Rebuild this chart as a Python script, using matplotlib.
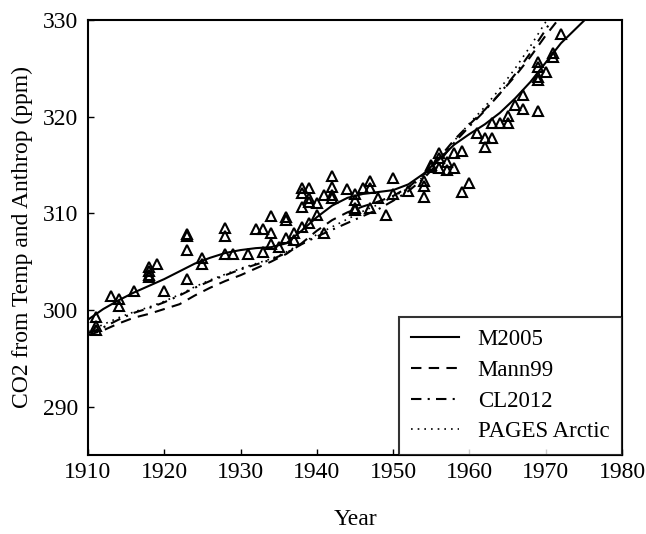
import matplotlib
matplotlib.use("Agg")
import matplotlib.pyplot as plt

plt.rcParams["font.family"] = ["Liberation Serif", "DejaVu Serif"]

# ========= data =========
m2005_years = [1910, 1912, 1914, 1916, 1918, 1920, 1922, 1924, 1926, 1928, 1930,
               1932, 1934, 1936, 1938, 1940, 1942, 1944, 1946, 1948, 1950, 1952,
               1954, 1956, 1958, 1960, 1962, 1964, 1966, 1968, 1970, 1972, 1975.5]
m2005_ppm = [299.0, 300.1, 301.0, 301.8, 302.5, 303.2, 304.0, 304.8, 305.4, 305.9, 306.2,
             306.4, 306.5, 306.9, 308.2, 309.6, 310.8, 311.6, 312.0, 312.2, 312.4, 313.0,
             314.1, 315.6, 317.1, 318.2, 319.2, 320.4, 321.9, 323.6, 325.6, 327.6, 330.3]

mann_years = [1910, 1912, 1914, 1916, 1918, 1920, 1922, 1924, 1926, 1928, 1930,
              1932, 1934, 1936, 1938, 1940, 1942, 1944, 1946, 1948, 1950, 1952,
              1954, 1956, 1958, 1960, 1962, 1964, 1966, 1968, 1970, 1972]
mann_ppm = [297.4, 297.9, 298.6, 299.2, 299.6, 300.1, 300.6, 301.5, 302.3, 303.0, 303.6,
            304.3, 305.0, 305.8, 306.9, 308.2, 309.3, 310.1, 310.7, 311.2, 311.8, 312.7,
            314.0, 315.7, 317.6, 319.2, 320.7, 322.4, 324.2, 326.2, 328.4, 330.4]

cl_years = [1910, 1912, 1914, 1916, 1918, 1920, 1922, 1924, 1926, 1928, 1930,
            1932, 1934, 1936, 1938, 1940, 1942, 1944, 1946, 1948, 1950, 1952,
            1954, 1956, 1958, 1960, 1962, 1964, 1966, 1968, 1970, 1971]
cl_ppm = [297.6, 298.2, 299.0, 299.7, 300.2, 300.8, 301.5, 302.3, 303.0, 303.6, 304.2,
          304.7, 305.2, 305.9, 306.8, 307.6, 308.3, 309.0, 309.7, 310.4, 311.3, 312.3,
          313.6, 315.3, 317.3, 319.0, 320.6, 322.4, 324.4, 326.6, 329.0, 330.3]

pages_years = [1910, 1912, 1914, 1916, 1918, 1920, 1922, 1924, 1926, 1928, 1930,
               1932, 1934, 1936, 1938, 1940, 1942, 1944, 1946, 1948, 1950, 1952,
               1954, 1956, 1958, 1960, 1962, 1964, 1966, 1968, 1970, 1970.5]
pages_ppm = [297.8, 298.5, 299.2, 299.8, 300.3, 300.9, 301.6, 302.4, 303.1, 303.7, 304.3,
             304.8, 305.3, 306.0, 306.9, 307.8, 308.6, 309.4, 310.2, 310.9, 311.7, 312.6,
             313.8, 315.5, 317.5, 319.3, 321.0, 322.9, 325.0, 327.3, 329.8, 330.4]

obs_years = [1911, 1911, 1911, 1913, 1914, 1914, 1916, 1918, 1918, 1918, 1918,
             1919, 1920, 1923, 1923, 1923, 1923, 1925, 1925, 1928, 1928, 1928,
             1929, 1931, 1932, 1933, 1933, 1934, 1934, 1934, 1935, 1936, 1936, 1936,
             1937, 1937, 1938, 1938, 1938, 1938, 1939, 1939, 1939, 1939, 1940, 1940,
             1941, 1941, 1942, 1942, 1942, 1942, 1944, 1945, 1945, 1945, 1945, 1946,
             1947, 1947, 1947, 1948, 1949, 1950, 1950, 1952, 1954, 1954, 1954,
             1955, 1955, 1956, 1956, 1956, 1957, 1957, 1958, 1958, 1959, 1959, 1960,
             1961, 1962, 1962, 1963, 1963, 1964, 1965, 1965, 1966, 1967, 1967,
             1969, 1969, 1969, 1969, 1969, 1970, 1971, 1971, 1972]
obs_ppm = [299.3, 298.3, 297.9, 301.4, 301.1, 300.4, 302.0, 304.4, 304.0, 303.6, 303.4,
           304.8, 302.0, 307.9, 307.7, 306.2, 303.2, 305.4, 304.8, 308.5, 307.7, 305.8,
           305.8, 305.8, 308.4, 308.4, 306.0, 309.7, 308.0, 306.8, 306.5, 309.6, 309.3, 307.5,
           308.0, 307.2, 312.6, 312.1, 310.7, 308.6, 312.6, 311.6, 311.2, 309.0, 311.1, 309.8,
           308.0, 311.9, 313.9, 312.7, 311.9, 311.6, 312.5, 312.0, 311.4, 310.6, 310.3, 312.6,
           313.3, 312.6, 310.6, 311.6, 309.8, 313.7, 312.0, 312.3, 313.3, 312.8, 311.7,
           314.8, 315.0, 316.2, 315.7, 314.7, 315.3, 314.5, 316.2, 314.7, 316.4, 312.2, 313.1,
           318.3, 317.8, 316.9, 319.3, 317.8, 319.3, 319.3, 320.1, 321.2, 322.2, 320.8,
           320.6, 325.7, 325.1, 324.1, 323.8, 324.6, 326.6, 326.2, 328.6]

x_ticks = [1910, 1920, 1930, 1940, 1950, 1960, 1970, 1980]
y_ticks = [290, 300, 310, 320, 330]

FS = 17

# ========= plot =========
fig = plt.figure(figsize=(6.46, 5.34), dpi=100)
ax = fig.add_axes([88 / 646, 1 - 455 / 534, (622 - 88) / 646, (455 - 20) / 534])

ax.plot(obs_years, obs_ppm, linestyle="none", marker="^", markersize=7,
        markerfacecolor="none", markeredgecolor="black", markeredgewidth=1.5)

ax.plot(m2005_years, m2005_ppm, color="black", lw=1.5, ls="-", label="M2005")
ax.plot(mann_years, mann_ppm, color="black", lw=1.5, ls=(0, (5, 3.5)), label="Mann99")
ax.plot(cl_years, cl_ppm, color="black", lw=1.5, ls=(0, (5, 3, 1, 3)), label="CL2012")
ax.plot(pages_years, pages_ppm, color="black", lw=1.2, ls=(0, (1, 3)), label="PAGES Arctic")

ax.set_xlim(1910, 1980)
ax.set_ylim(285, 330)
ax.set_xticks(x_ticks)
ax.set_yticks(y_ticks)
ax.tick_params(axis="both", direction="in", length=4, width=1, labelsize=FS)
ax.tick_params(axis="x", pad=5)
ax.tick_params(axis="y", pad=7)
for sp in ax.spines.values():
    sp.set_linewidth(1.5)

ax.set_xlabel("Year", fontsize=FS, labelpad=19)
ax.set_ylabel("CO2 from Temp and Anthrop (ppm)", fontsize=FS, labelpad=7)

leg = ax.legend(loc="lower right", fontsize=16.5, frameon=True, fancybox=False,
                borderaxespad=0, handlelength=2.1, handletextpad=0.8,
                labelspacing=0.42, borderpad=0.55)
leg.get_frame().set_edgecolor("black")
leg.get_frame().set_linewidth(1.5)

fig.savefig("out.png", dpi=100)
